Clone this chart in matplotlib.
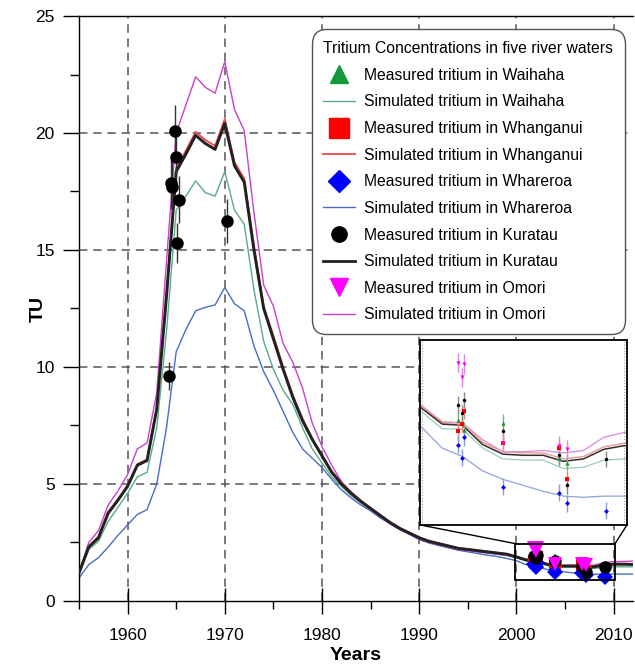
import matplotlib
matplotlib.use("Agg")
import matplotlib.pyplot as plt
from matplotlib.lines import Line2D
from matplotlib.patches import Rectangle, ConnectionPatch

plt.rcParams['font.family'] = ['Liberation Sans', 'DejaVu Sans']

# ---- simulated tritium (TU), one value per year 1955..2012 ----
years = list(range(1955, 2013))

sim_waihaha = [1.1, 2.2, 2.55, 3.4, 4.0, 4.6, 5.3, 5.5, 7.4, 11.5,
               16.7, 17.3, 17.95, 17.45, 17.3, 18.35, 16.7, 16.1, 13.3, 11.1,
               9.9, 9.0, 8.4, 7.4, 6.5, 5.9, 5.3, 4.9, 4.5, 4.2,
               3.9, 3.6, 3.33, 3.08, 2.88, 2.68, 2.53, 2.43, 2.33, 2.23,
               2.18, 2.12, 2.06, 2.0, 1.94, 1.85, 1.71, 1.71, 1.55, 1.46,
               1.45, 1.45, 1.38, 1.39, 1.45, 1.46, 1.46, 1.46]

sim_whanganui = [1.2, 2.35, 2.75, 3.8, 4.35, 4.95, 5.85, 6.05, 8.3, 13.2,
                 18.5, 19.25, 20.05, 19.7, 19.45, 20.6, 18.75, 18.05, 15.2, 12.6,
                 11.35, 10.0, 8.8, 7.8, 6.95, 6.25, 5.55, 5.05, 4.65, 4.3,
                 3.98, 3.68, 3.38, 3.12, 2.92, 2.72, 2.57, 2.47, 2.37, 2.27,
                 2.22, 2.17, 2.11, 2.06, 2.01, 1.9, 1.77, 1.76, 1.6, 1.52,
                 1.51, 1.51, 1.46, 1.48, 1.56, 1.59, 1.59, 1.58]

sim_whareroa = [0.98, 1.55, 1.85, 2.3, 2.8, 3.25, 3.7, 3.9, 5.0, 7.4,
                10.65, 11.6, 12.4, 12.55, 12.65, 13.4, 12.7, 12.4, 10.9, 9.8,
                9.0, 8.1, 7.2, 6.5, 6.1, 5.7, 5.2, 4.75, 4.4, 4.1,
                3.85, 3.55, 3.3, 3.05, 2.85, 2.62, 2.48, 2.37, 2.27, 2.17,
                2.1, 2.03, 1.96, 1.9, 1.82, 1.72, 1.55, 1.48, 1.36, 1.29,
                1.24, 1.19, 1.15, 1.14, 1.15, 1.15, 1.15, 1.15]

sim_kuratau = [1.2, 2.3, 2.7, 3.75, 4.3, 4.9, 5.8, 6.0, 8.2, 13.0,
               18.35, 19.1, 19.9, 19.55, 19.3, 20.4, 18.6, 17.9, 15.0, 12.5,
               11.2, 9.9, 8.7, 7.7, 6.9, 6.2, 5.5, 5.0, 4.6, 4.25,
               3.95, 3.65, 3.35, 3.1, 2.9, 2.7, 2.55, 2.45, 2.35, 2.25,
               2.2, 2.15, 2.1, 2.05, 2.0, 1.88, 1.75, 1.74, 1.58, 1.5,
               1.49, 1.49, 1.44, 1.46, 1.54, 1.57, 1.57, 1.56]

sim_omori = [1.2, 2.5, 3.0, 4.1, 4.7, 5.4, 6.5, 6.75, 8.9, 14.5,
             20.0, 21.2, 22.4, 21.95, 21.7, 23.05, 21.0, 20.1, 16.6, 13.5,
             12.6, 11.0, 10.2, 9.1, 7.6, 6.6, 5.8, 5.1, 4.65, 4.27,
             3.93, 3.6, 3.3, 3.05, 2.85, 2.65, 2.5, 2.4, 2.3, 2.2,
             2.15, 2.1, 2.05, 2.0, 1.95, 1.9, 1.76, 1.76, 1.62, 1.52,
             1.52, 1.53, 1.51, 1.53, 1.64, 1.68, 1.69, 1.7]

# ---- measured tritium (year, TU, error) ----
waihaha_yr = [2001.8, 2002.1, 2004.0, 2006.8, 2007.2]
waihaha_tu = [1.78, 1.70, 1.76, 1.47, 1.43]
waihaha_err = [0.07, 0.07, 0.07, 0.07, 0.07]

whanganui_yr = [2001.8, 2002.0, 2002.1, 2004.0, 2006.8, 2007.2]
whanganui_tu = [1.69, 1.75, 1.86, 1.59, 1.55, 1.29]
whanganui_err = [0.07, 0.07, 0.07, 0.07, 0.07, 0.07]

whareroa_yr = [2001.8, 2002.0, 2002.1, 2004.0, 2006.8, 2007.2, 2009.1]
whareroa_tu = [1.58, 1.47, 1.64, 1.23, 1.18, 1.09, 1.03]
whareroa_err = [0.07, 0.07, 0.07, 0.07, 0.07, 0.07, 0.07]

kuratau_yr = [1964.3, 1964.5, 1964.6, 1964.9, 1964.95, 1965.1, 1965.3, 1970.25,
              2001.8, 2002.0, 2002.1, 2004.0, 2006.8, 2007.2, 2009.1]
kuratau_tu = [9.6, 17.85, 17.7, 20.1, 18.96, 15.3, 17.15, 16.25,
              1.91, 1.84, 1.95, 1.69, 1.49, 1.24, 1.46]
kuratau_err = [0.6, 1.1, 1.1, 1.1, 1.1, 0.85, 1.0, 0.95,
               0.07, 0.07, 0.07, 0.07, 0.07, 0.07, 0.07]

omori_yr = [2001.8, 2002.0, 2002.1, 2004.0, 2006.8, 2007.2]
omori_tu = [2.26, 2.14, 2.25, 1.59, 1.57, 1.54]
omori_err = [0.08, 0.08, 0.08, 0.08, 0.08, 0.08]

# colours
c_wai, c_wai_m = '#5aab87', '#12993a'
c_wha, c_wha_m = '#e8474a', '#ff0000'
c_whr, c_whr_m = '#4a6cc4', '#0000ff'
c_kur, c_kur_m = '#222222', '#000000'
c_omo, c_omo_m = '#c840cc', '#ff00ff'

fig = plt.figure(figsize=(6.35, 6.67), dpi=100)
ax = fig.add_axes([0.1244, 0.099, 0.8725, 0.877])

grid_kw = dict(color='#555555', lw=1.1, linestyle=(0, (5.5, 3.8)), zorder=0)
for gx in [1960, 1970, 1980, 1990, 2000, 2010]:
    ax.axvline(gx, **grid_kw)
for gy in [5, 10, 15, 20]:
    ax.axhline(gy, **grid_kw)

ax.plot(years, sim_whareroa, color=c_whr, lw=1.0, zorder=2)
ax.plot(years, sim_waihaha, color=c_wai, lw=1.0, zorder=2)
ax.plot(years, sim_omori, color=c_omo, lw=1.0, zorder=2)
ax.plot(years, sim_whanganui, color=c_wha, lw=1.3, zorder=3)
ax.plot(years, sim_kuratau, color=c_kur, lw=2.1, zorder=4)

def measured(a, x, y, e, mk, col, ecol, ms, mew=0.0):
    a.errorbar(x, y, yerr=e, fmt=mk, color=col, ecolor=ecol, elinewidth=1.0,
               ms=ms, mew=mew, mec='black', capsize=0, zorder=5)

measured(ax, waihaha_yr, waihaha_tu, waihaha_err, '^', c_wai_m, '#447744', 9.5)
measured(ax, whanganui_yr, whanganui_tu, whanganui_err, 's', c_wha_m, '#aa2222', 8)
measured(ax, whareroa_yr, whareroa_tu, whareroa_err, 'D', c_whr_m, '#3344aa', 8)
measured(ax, kuratau_yr, kuratau_tu, kuratau_err, 'o', c_kur_m, '#333333', 9)
measured(ax, omori_yr, omori_tu, omori_err, 'v', c_omo_m, '#cc55cc', 10)

ax.set_xlim(1955, 2012)
ax.set_ylim(0, 25)
ax.set_xticks([1960, 1970, 1980, 1990, 2000, 2010])
ax.set_xticks([1955, 1965, 1975, 1985, 1995, 2005], minor=True)
ax.set_yticks([0, 5, 10, 15, 20, 25])
ax.set_yticks([2.5, 7.5, 12.5, 17.5, 22.5], minor=True)
ax.tick_params(axis='x', which='major', direction='inout', length=19, width=1,
               labelsize=12.5, pad=10)
ax.tick_params(axis='x', which='minor', direction='out', length=6, width=1)
ax.tick_params(axis='y', which='major', direction='out', length=11.5, width=1,
               labelsize=12.5, pad=6)
ax.tick_params(axis='y', which='minor', direction='out', length=6.5, width=1)
ax.spines['right'].set_visible(False)
for s in ['left', 'bottom', 'top']:
    ax.spines[s].set_linewidth(1.0)

ax.set_xlabel('Years', fontsize=14, fontweight='bold', labelpad=3)
ax.set_ylabel('TU', fontsize=14, fontweight='bold', labelpad=-8)

# legend
handles = [
    Line2D([], [], ls='none', marker='^', ms=13, color=c_wai_m),
    Line2D([], [], color=c_wai, lw=1.0),
    Line2D([], [], ls='none', marker='s', ms=14, color=c_wha_m),
    Line2D([], [], color=c_wha, lw=1.3),
    Line2D([], [], ls='none', marker='D', ms=11, color=c_whr_m),
    Line2D([], [], color=c_whr, lw=1.0),
    Line2D([], [], ls='none', marker='o', ms=11, color=c_kur_m),
    Line2D([], [], color=c_kur, lw=2.0),
    Line2D([], [], ls='none', marker='v', ms=13, color=c_omo_m),
    Line2D([], [], color=c_omo, lw=1.0),
]
labels = ['Measured tritium in Waihaha', 'Simulated tritium in Waihaha',
          'Measured tritium in Whanganui', 'Simulated tritium in Whanganui',
          'Measured tritium in Whareroa', 'Simulated tritium in Whareroa',
          'Measured tritium in Kuratau', 'Simulated tritium in Kuratau',
          'Measured tritium in Omori', 'Simulated tritium in Omori']
leg = ax.legend(handles, labels, title='Tritium Concentrations in five river waters',
                loc='upper right', bbox_to_anchor=(0.9856, 0.977), borderaxespad=0,
                fontsize=11.3, title_fontsize=11.3, alignment='left',
                handlelength=2.0, handletextpad=0.6, labelspacing=0.74,
                borderpad=0.75, fancybox=True, framealpha=1, edgecolor='#555555')
leg.get_frame().set_boxstyle('round', pad=0, rounding_size=0.9)
leg.set_zorder(10)

# inset zoom on the recent samples
ix0, ix1, iy0, iy1 = 1999.9, 2010.15, 0.91, 2.45
axins = ax.inset_axes([0.6155, 0.13, 0.3736, 0.316])
axins.plot(years, sim_whareroa, color='#8fa3d8', lw=0.9)
axins.plot(years, sim_waihaha, color='#9ccdb5', lw=0.9)
axins.plot(years, sim_omori, color='#d98ad8', lw=0.9)
axins.plot(years, sim_whanganui, color='#e89a9a', lw=1.0)
axins.plot(years, sim_kuratau, color='#3a2a2a', lw=1.1)
measured(axins, waihaha_yr, waihaha_tu, waihaha_err, '^', c_wai_m, '#88aa88', 3)
measured(axins, whanganui_yr, whanganui_tu, whanganui_err, 's', c_wha_m, '#dd8888', 2.5)
measured(axins, whareroa_yr, whareroa_tu, whareroa_err, 'D', c_whr_m, '#8899dd', 2.5)
measured(axins, kuratau_yr, kuratau_tu, kuratau_err, 'o', c_kur_m, '#888888', 2.5)
measured(axins, omori_yr, omori_tu, omori_err, 'v', c_omo_m, '#dd88dd', 3)
axins.set_xlim(ix0, ix1)
axins.set_ylim(iy0, iy1)
axins.set_xticks([2000, 2010])
axins.set_yticks([])
axins.tick_params(length=0, labelbottom=False)
axins.grid(axis='x', color='#999999', ls=':', lw=0.8)
for s in axins.spines.values():
    s.set_linewidth(1.3)
axins.set_zorder(8)

ax.add_patch(Rectangle((ix0, iy0), ix1 - ix0, iy1 - iy0, fill=False,
                       ec='black', lw=1.3, zorder=6))
for ins_corner, main_corner in [((0, 0), (ix0, iy1)), ((1, 0), (ix1, iy1))]:
    con = ConnectionPatch(xyA=ins_corner, coordsA=axins.transAxes,
                          xyB=main_corner, coordsB=ax.transData,
                          color='black', lw=1.0)
    fig.add_artist(con)

fig.savefig('out.png', dpi=100)
